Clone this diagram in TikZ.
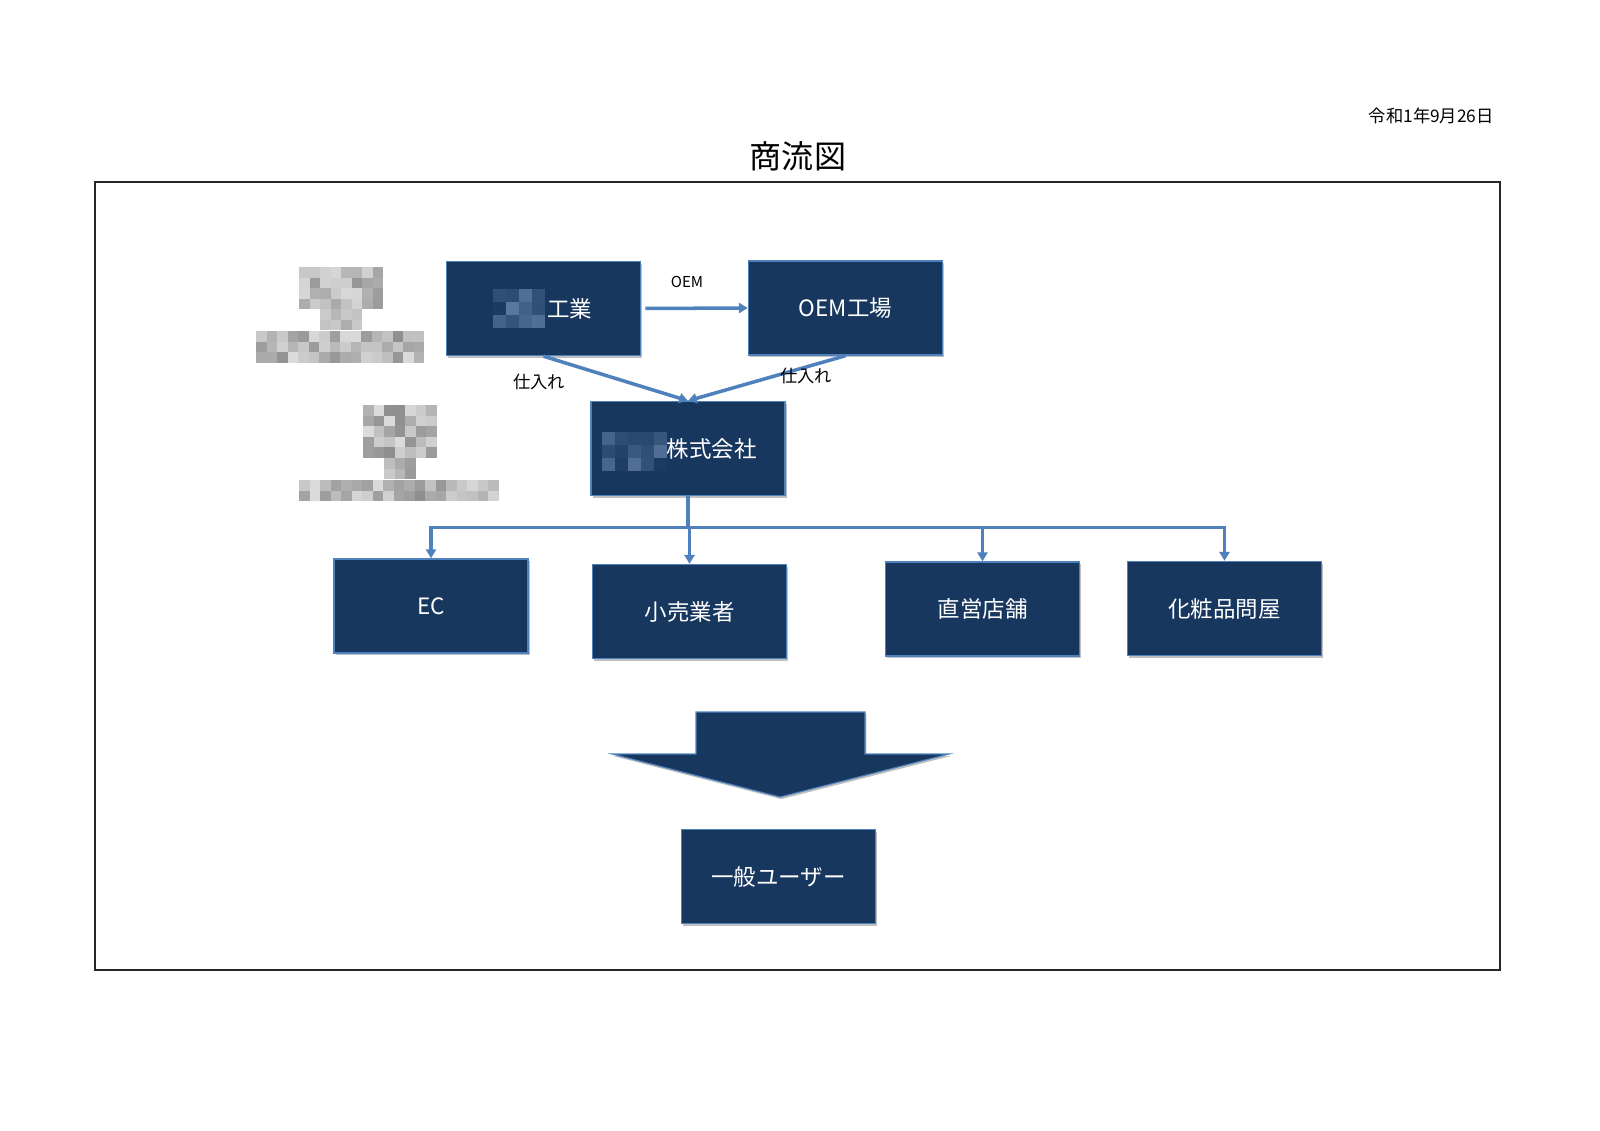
\documentclass[tikz,border=0pt]{standalone}
\usepackage{fontspec}
\setmainfont{Noto Sans CJK JP}
\usetikzlibrary{arrows.meta,shadows}

\definecolor{navy}{RGB}{23,55,94}
\definecolor{linkblue}{RGB}{79,129,189}
\definecolor{blurblue}{RGB}{92,122,162}
\colorlet{stampdark}{black!45}
\colorlet{stamplight}{black!14}

% pixelated (blurred) patch: x, y, cols, rows, cell, colour a, colour b
\newcommand\mosaic[7]{%
  \foreach \mi in {1,...,#3}{\foreach \mj in {1,...,#4}{%
    \pgfmathsetmacro\mtone{int(100*rnd)}%
    \fill[#6!\mtone!#7] ({#1+(\mi-1)*#5},{#2+(\mj-1)*#5}) rectangle ++(#5,#5);}}}

\tikzset{
  firm/.style={draw=linkblue, line width=1pt, fill=navy, text=white,
    minimum width=4.85cm, minimum height=2.35cm, inner sep=0pt,
    font=\fontsize{16}{19}\selectfont,
    drop shadow={shadow xshift=1.2pt, shadow yshift=-1.5pt, opacity=0.25, fill=black}},
  wire/.style={draw=linkblue, line width=2.5pt},
  flow/.style={wire, -{Triangle[length=0.22cm, width=0.25cm]}},
  tag/.style={font=\fontsize{12.3}{14}\selectfont, inner sep=0pt}
}

\begin{document}
\begin{tikzpicture}[x=0.025cm, y=-0.025cm]
  \useasboundingbox (0,0) rectangle (1600,1131);
  \pgfmathsetseed{11}

  % heading and frame
  \node[tag, anchor=east] (date) at (1494,116) {令和1年9月26日};
  \node[font=\fontsize{22.8}{26}\selectfont] (title) at (798,156) {商流図};
  \draw[line width=1.4pt, black!85] (95,182) rectangle (1500,970);

  % suppliers
  \node[firm] (kogyo) at (543.5,308.5) {\hspace*{1.3cm}工業};
  \node[firm] (oem) at (845.5,308) {OEM工場};
  \node[firm] (kaisha) at (688,448.5) {\hspace*{1.625cm}株式会社\hspace*{0.45cm}};

  \draw[flow, shorten <=3pt] (kogyo.east) -- (oem.west);
  \node[tag, font=\fontsize{10.7}{13}\selectfont] (oemtag) at (687,282) {OEM};
  \draw[flow] (kogyo.south) -- (kaisha.north);
  \draw[flow] (oem.south) -- (kaisha.north);
  \node[tag] (buyleft) at (539,382) {仕入れ};
  \node[tag] (buyright) at (806,375.5) {仕入れ};

  % sales channels
  \node[firm] (ec) at (431,606) {EC};
  \node[firm] (kouri) at (689.5,611.5) {小売業者};
  \node[firm] (chokuei) at (982.5,609) {直営店舗};
  \node[firm] (tonya) at (1224.5,608.5) {化粧品問屋};

  \coordinate (split) at (688,527.5);
  \draw[wire] (kaisha.south) -- (split);
  \foreach \n in {ec,kouri,chokuei,tonya}
    \draw[flow] (split) -| (\n.north);

  % big arrow down to the end user
  \filldraw[fill=navy, draw=linkblue, line width=0.8pt,
    drop shadow={shadow xshift=1pt, shadow yshift=-1.5pt, opacity=0.25, fill=black}]
    (696,712) -- (865,712) -- (865,754) -- (949,754) -- (780,797)
    -- (612,754) -- (696,754) -- cycle;
  \node[firm] (user) at (778.5,876.5) {一般ユーザー};

  % blurred names and stamps
  \mosaic{493}{289}{4}{3}{13}{navy}{blurblue}
  \mosaic{602}{432}{5}{3}{13}{navy}{blurblue}
  \mosaic{299}{267}{8}{4}{10.5}{stampdark}{stamplight}
  \mosaic{320}{309}{4}{2}{10.5}{stampdark}{stamplight}
  \mosaic{256}{331}{16}{3}{10.5}{stampdark}{stamplight}
  \mosaic{363}{405}{7}{5}{10.5}{stampdark}{stamplight}
  \mosaic{384}{458}{3}{2}{10.5}{stampdark}{stamplight}
  \mosaic{299}{480}{19}{2}{10.5}{stampdark}{stamplight}
\end{tikzpicture}
\end{document}
